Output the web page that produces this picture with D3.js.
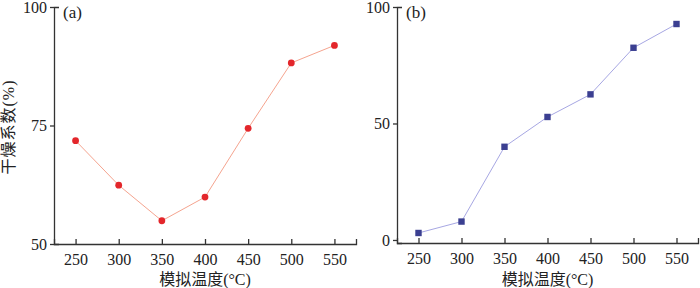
<!DOCTYPE html>
<html>
<head>
<meta charset="utf-8">
<script src="https://cdn.jsdelivr.net/npm/d3@7"></script>
<style>
body{margin:0;background:#fff;}
text{font-family:"Liberation Serif","Noto Sans CJK SC",serif;fill:#222;}
.cjk{font-family:"Liberation Serif","Noto Sans CJK SC",serif;}
</style>
</head>
<body>
<svg id="chart" width="700" height="288"></svg>
<script>
// data
var temps = [250, 300, 350, 400, 450, 500, 550];
var dryA = [71.8, 62.4, 54.9, 59.9, 74.4, 88.2, 91.9];
var dryB = [3.0, 7.9, 40.0, 52.8, 62.5, 82.5, 92.7];
var ticksA = [50, 75, 100];
var ticksB = [0, 50, 100];
var xTitle = "模拟温度(°C)";
var yTitle = "干燥系数(%)";

var svg = d3.select("#chart");

function panel(opt){
    var g = svg.append("g");
    var x = d3.scaleLinear().domain([225, 575]).range(opt.xr);
    var y = d3.scaleLinear().domain(opt.yd).range([opt.y0, 7]);

    //x axis, ticks pointing up
    var xa = g.append("g")
        .attr("transform", "translate(0," + opt.y0 + ")")
        .call(d3.axisBottom(x).tickValues(temps).tickSizeInner(-5).tickSizeOuter(-5).tickPadding(10));
    //y axis
    var ya = g.append("g")
        .attr("transform", "translate(" + opt.xr[0] + ",0)")
        .call(d3.axisLeft(y).tickValues(opt.yt).tickSizeInner(4).tickSizeOuter(-5).tickPadding(3));
    [xa, ya].forEach(function(a){
        a.selectAll("path,line").attr("stroke", "#333").attr("stroke-width", 1.3);
        a.selectAll("text").attr("font-size", 16).attr("fill", "#222")
            .attr("font-family", "Liberation Serif");
    });

    var line = d3.line()
        .x(function(d, i){ return x(temps[i]); })
        .y(function(d){ return y(d); });
    g.append("path").datum(opt.data)
        .attr("d", line).attr("fill", "none")
        .attr("stroke", opt.lineColor).attr("stroke-width", 1);

    if(opt.shape == "circle"){
        g.selectAll("circle.pt").data(opt.data).enter().append("circle")
            .attr("cx", function(d, i){ return x(temps[i]); })
            .attr("cy", function(d){ return y(d); })
            .attr("r", 3.4).attr("fill", opt.color);
    } else {
        g.selectAll("rect.pt").data(opt.data).enter().append("rect")
            .attr("x", function(d, i){ return x(temps[i]) - 3.2; })
            .attr("y", function(d){ return y(d) - 3.2; })
            .attr("width", 6.4).attr("height", 6.4).attr("fill", opt.color);
    }

    g.append("text").attr("x", opt.xr[0] + 9).attr("y", 18)
        .attr("font-size", 17).text(opt.tag);

    g.append("text").attr("class", "cjk")
        .attr("x", (opt.xr[0] + opt.xr[1]) / 2).attr("y", 285)
        .attr("text-anchor", "middle").attr("font-size", 16)
        .text(xTitle);
}

panel({xr: [54, 356], y0: 244, yd: [50, 100], yt: ticksA, data: dryA,
    shape: "circle", color: "#e3262b", lineColor: "#f5a48f", tag: "(a)"});
panel({xr: [397, 698], y0: 243, yd: [-1.3, 100], yt: ticksB, data: dryB,
    shape: "rect", color: "#3b3f91", lineColor: "#a7a7e3", tag: "(b)"});

svg.append("text").attr("class", "cjk")
    .attr("transform", "translate(14,127) rotate(-90)")
    .attr("text-anchor", "middle").attr("font-size", 16)
    .attr("letter-spacing", 1)
    .text(yTitle);
</script>
</body>
</html>
